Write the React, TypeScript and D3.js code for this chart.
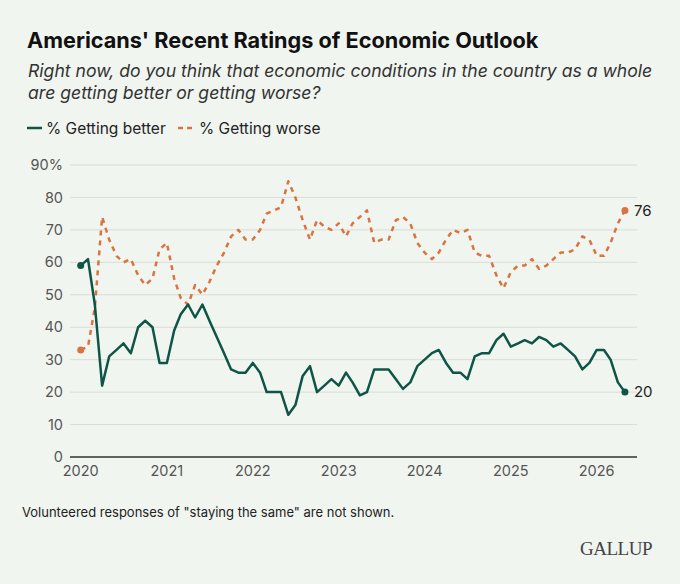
import { useEffect, useRef } from "react";
import * as d3 from "d3";

// monthly readings, Jan 2020 .. May 2026
const months = d3.timeMonth.range(new Date(2020, 0, 1), new Date(2026, 5, 1));

const better = [
  59, 61, 47, 22, 31, 33, 35, 32, 40, 42, 40, 29,
  29, 39, 44, 47, 43, 47, 42, 37, 32, 27, 26, 26,
  29, 26, 20, 20, 20, 13, 16, 25, 28, 20, 22, 24,
  22, 26, 23, 19, 20, 27, 27, 27, 24, 21, 23, 28,
  30, 32, 33, 29, 26, 26, 24, 31, 32, 32, 36, 38,
  34, 35, 36, 35, 37, 36, 34, 35, 33, 31, 27, 29,
  33, 33, 30, 23, 20,
];

const worse = [
  33, 34, 46, 74, 67, 62, 60, 61, 56, 53, 55, 64,
  66, 55, 49, 47, 53, 50, 54, 59, 63, 68, 70, 67,
  67, 70, 75, 76, 77, 85, 80, 73, 67, 73, 71, 70,
  72, 68, 72, 74, 76, 66, 67, 67, 73, 74, 72, 66,
  63, 61, 63, 67, 70, 69, 70, 63, 62, 62, 56, 52,
  57, 59, 59, 61, 58, 59, 61, 63, 63, 64, 68, 67,
  62, 62, 66, 72, 76,
];

const yTicks = [0, 10, 20, 30, 40, 50, 60, 70, 80, 90];
const xTickYears = [2020, 2021, 2022, 2023, 2024, 2025, 2026];

const GREEN = "#0e5546";
const ORANGE = "#d9733f";
const BG = "#f1f5f0";

export default function App() {
  const svgRef = useRef<SVGSVGElement>(null);

  useEffect(() => {
    if (!svgRef.current) return;
    d3.select(svgRef.current).selectAll("*").remove();

    const width = 680;
    const height = 584;
    const svg = d3.select(svgRef.current)
      .attr("width", width)
      .attr("height", height)
      .style("font-family", "Inter, 'Noto Sans', sans-serif");

    svg.append("rect").attr("width", width).attr("height", height).attr("fill", BG);

    // Title block
    svg.append("text")
      .attr("x", 27).attr("y", 48)
      .style("font-size", "21.7px").style("font-weight", 700)
      .attr("fill", "#111")
      .text("Americans' Recent Ratings of Economic Outlook");

    const sub = svg.append("text")
      .style("font-size", "17.6px").style("font-style", "italic")
      .attr("fill", "#333");
    sub.append("tspan").attr("x", 28).attr("y", 77)
      .text("Right now, do you think that economic conditions in the country as a whole");
    sub.append("tspan").attr("x", 28).attr("y", 99)
      .text("are getting better or getting worse?");

    // Legend
    const lg = svg.append("g").attr("transform", "translate(27,128)");
    lg.append("line").attr("x1", 0).attr("x2", 15).attr("stroke", GREEN).attr("stroke-width", 2.5);
    lg.append("text").attr("x", 19).attr("y", 5.5).style("font-size", "15.5px").attr("fill", "#222")
      .text("% Getting better");
    lg.append("line").attr("x1", 151).attr("x2", 166).attr("stroke", ORANGE).attr("stroke-width", 2.5)
      .attr("stroke-dasharray", "5,4");
    lg.append("text").attr("x", 172).attr("y", 5.5).style("font-size", "15.5px").attr("fill", "#222")
      .text("% Getting worse");

    const x = d3.scaleTime()
      .domain([new Date(2020, 0, 1), new Date(2026, 0, 1)])
      .range([80.7, 596.7]);
    const y = d3.scaleLinear().domain([0, 90]).range([457, 165]);
    const x0 = 70;
    const x1 = 637;

    // Grid
    svg.append("g").selectAll("line")
      .data(yTicks.filter(t => t > 0))
      .enter().append("line")
      .attr("x1", x0).attr("x2", x1)
      .attr("y1", d => y(d)).attr("y2", d => y(d))
      .attr("stroke", "#d8ddd7").attr("stroke-width", 1);

    svg.append("line")
      .attr("x1", x0).attr("x2", x1)
      .attr("y1", y(0)).attr("y2", y(0))
      .attr("stroke", "#5d665e").attr("stroke-width", 2);

    svg.append("g").selectAll("text")
      .data(yTicks)
      .enter().append("text")
      .attr("x", 63).attr("y", d => y(d)).attr("dy", "0.35em")
      .attr("text-anchor", "end")
      .style("font-size", "14.5px").attr("fill", "#555")
      .text(d => d === 90 ? "90%" : String(d));

    svg.append("g").selectAll("text")
      .data(xTickYears)
      .enter().append("text")
      .attr("x", d => x(new Date(d, 0, 1))).attr("y", 476)
      .attr("text-anchor", "middle")
      .style("font-size", "14.5px").attr("fill", "#555")
      .text(d => String(d));

    const line = d3.line<number>()
      .x((_, i) => x(months[i]))
      .y(d => y(d));

    svg.append("path").datum(worse)
      .attr("d", line)
      .attr("fill", "none").attr("stroke", ORANGE).attr("stroke-width", 2.5)
      .attr("stroke-dasharray", "5,5").attr("stroke-linejoin", "round");

    svg.append("path").datum(better)
      .attr("d", line)
      .attr("fill", "none").attr("stroke", GREEN).attr("stroke-width", 2.5)
      .attr("stroke-linejoin", "round");

    const last = months.length - 1;
    const dots: [number, number, string][] = [
      [0, worse[0], ORANGE], [last, worse[last], ORANGE],
      [0, better[0], GREEN], [last, better[last], GREEN],
    ];
    svg.append("g").selectAll("circle")
      .data(dots)
      .enter().append("circle")
      .attr("cx", d => x(months[d[0]])).attr("cy", d => y(d[1]))
      .attr("r", 3.5).attr("fill", d => d[2]);

    svg.append("g").selectAll("text")
      .data([worse[last], better[last]])
      .enter().append("text")
      .attr("x", x(months[last]) + 9).attr("y", d => y(d)).attr("dy", "0.35em")
      .style("font-size", "15px").attr("fill", "#222")
      .text(d => String(d));

    // Footer
    svg.append("text")
      .attr("x", 22).attr("y", 517)
      .style("font-size", "13px").attr("fill", "#222")
      .text("Volunteered responses of \"staying the same\" are not shown.");

    svg.append("text")
      .attr("x", 652).attr("y", 555)
      .attr("text-anchor", "end")
      .style("font-family", "'Liberation Serif', 'DejaVu Serif', serif")
      .style("font-size", "19px").attr("fill", "#444")
      .style("letter-spacing", "-0.5px")
      .text("GALLUP");
  }, []);

  return (
    <svg
      ref={svgRef}
      style={{ position: "absolute", left: 0, top: 0, display: "block" }}
    ></svg>
  );
}
